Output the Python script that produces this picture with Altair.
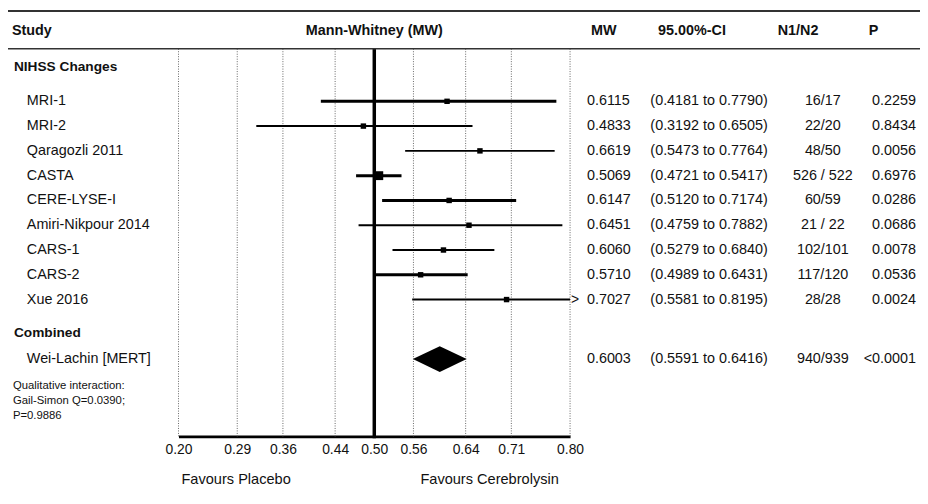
import altair as alt
import pandas as pd

# ---------------- data ----------------
studies = ["MRI-1", "MRI-2", "Qaragozli 2011", "CASTA", "CERE-LYSE-I",
           "Amiri-Nikpour 2014", "CARS-1", "CARS-2", "Xue 2016"]
mw = [0.6115, 0.4833, 0.6619, 0.5069, 0.6147, 0.6451, 0.6060, 0.5710, 0.7027]
ci_lo = [0.4181, 0.3192, 0.5473, 0.4721, 0.5120, 0.4759, 0.5279, 0.4989, 0.5581]
ci_hi = [0.7790, 0.6505, 0.7764, 0.5417, 0.7174, 0.7882, 0.6840, 0.6431, 0.8195]
n1n2 = ["16/17", "22/20", "48/50", "526 / 522", "60/59", "21 / 22", "102/101", "117/120", "28/28"]
pvals = ["0.2259", "0.8434", "0.0056", "0.6976", "0.0286", "0.0686", "0.0078", "0.0536", "0.0024"]

combined_label = "Wei-Lachin [MERT]"
combined_mw = 0.6003
combined_lo = 0.5591
combined_hi = 0.6416
combined_n = "940/939"
combined_p = "<0.0001"

ticks = [0.20, 0.29, 0.36, 0.44, 0.50, 0.56, 0.64, 0.71, 0.80]
headers = ["Study", "Mann-Whitney (MW)", "MW", "95.00%-CI", "N1/N2", "P"]
sections = ["NIHSS Changes", "Combined"]
note_lines = ["Qualitative interaction:", "Gail-Simon Q=0.0390;", "P=0.9886"]
favours = ["Favours Placebo", "Favours Cerebrolysin"]

# ---------------- layout / style ----------------
FONT = "Liberation Sans"
W, H = 920, 430
X0, X1 = 172, 567
ROW_TOP, ROW_BOTTOM = -2.68, 14.52
THICK = {"MRI-1", "CASTA", "CERE-LYSE-I", "CARS-2"}
BIG = {"CASTA"}
XMAX = 0.80
HFS = 14.5  # header font size

xs = alt.Scale(domain=[0.2, 0.8], range=[X0, X1])
ys = alt.Scale(domain=[ROW_TOP, ROW_BOTTOM], range=[0, H])
ax = alt.Axis(values=ticks, format=".2f", title=None, grid=False, ticks=False,
              labelFont=FONT, labelFontSize=14, labelColor="#111",
              domainColor="black", domainWidth=3, labelPadding=6,
              labelFlush=False, labelOverlap=False)

rows = list(range(1, len(studies) + 1))
df = pd.DataFrame({
    "study": studies, "row": rows, "mw": mw, "lo": ci_lo, "hi": ci_hi,
    "n": n1n2, "p": pvals,
})
df["hi_c"] = df["hi"].clip(upper=XMAX)
df["mw_t"] = df["mw"].map(lambda v: f"{v:.4f}")
df["ci_t"] = [f"({a:.4f} to {b:.4f})" for a, b in zip(df["lo"], df["hi"])]
df["sw"] = [3 if s in THICK else 2 for s in studies]
df["sz"] = [80 if s in BIG else 30 for s in studies]

comb_row = 11.4
cdf = pd.DataFrame({"study": [combined_label], "row": [comb_row],
                    "mw_t": [f"{combined_mw:.4f}"],
                    "ci_t": [f"({combined_lo:.4f} to {combined_hi:.4f})"],
                    "n": [combined_n], "p": [combined_p]})

half = 0.52
diamond = pd.DataFrame({"x": [combined_lo, combined_mw, combined_hi],
                        "yt": [comb_row, comb_row - half, comb_row],
                        "yb": [comb_row, comb_row + half, comb_row]})

grid_df = pd.DataFrame({"t": [t for t in ticks if t != 0.5], "ya": -1.12, "yb": ROW_BOTTOM})
ref_df = pd.DataFrame({"t": [0.5], "ya": [-1.12], "yb": [ROW_BOTTOM + 0.08]})

Y = lambda f: alt.Y(f"{f}:Q", scale=ys, axis=None)
X = lambda f: alt.X(f"{f}:Q", scale=xs, axis=ax)

grid = alt.Chart(grid_df).mark_rule(color="#666", strokeDash=[1, 1.5], strokeWidth=1).encode(
    x=X("t"), y=Y("ya"), y2="yb:Q")
ref = alt.Chart(ref_df).mark_rule(color="black", strokeWidth=3.5).encode(
    x=X("t"), y=Y("ya"), y2="yb:Q")

hlines = alt.Chart(pd.DataFrame({"row": [-2.64, -1.12], "w": [2, 1.5]})).mark_rule(color="#333").encode(
    x=alt.value(0), x2=alt.value(W), y=Y("row"), strokeWidth=alt.StrokeWidth("w:Q", scale=None))

ci = alt.Chart(df).mark_rule(color="black").encode(
    x=X("lo"), x2="hi_c:Q", y=Y("row"), strokeWidth=alt.StrokeWidth("sw:Q", scale=None))
sq = alt.Chart(df).mark_square(color="black", opacity=1, filled=True).encode(
    x=X("mw"), y=Y("row"), size=alt.Size("sz:Q", scale=None))
arrow = alt.Chart(df[df["hi"] > XMAX]).mark_text(text=">", font=FONT, fontSize=14, dx=5, color="#111").encode(
    x=alt.X("hi_c:Q", scale=xs, axis=ax), y=Y("row"))
dia = alt.Chart(diamond).mark_area(color="black", orient="vertical").encode(
    x=X("x"), y=Y("yt"), y2="yb:Q")


def col_text(data, field, x, align="left", bold=False, size=14.5, color="#111"):
    return alt.Chart(data).mark_text(
        align=align, baseline="middle", font=FONT, fontSize=size,
        fontWeight="bold" if bold else "normal", color=color
    ).encode(x=alt.value(x), y=Y("row"), text=f"{field}:N")


allrows = pd.concat([df[["study", "row", "mw_t", "ci_t", "n", "p"]], cdf], ignore_index=True)
t_study = col_text(allrows, "study", 19)
t_mw = col_text(allrows, "mw_t", 584)
t_ci = col_text(allrows, "ci_t", 648)
t_n = col_text(allrows, "n", 822, align="center")
t_p = col_text(allrows, "p", 916, align="right")

sec_df = pd.DataFrame({"lab": sections, "row": [-0.4, 10.36]})
t_sec = col_text(sec_df, "lab", 6, bold=True, size=13.8)

hrow = -1.84
hdf = pd.DataFrame({"lab": headers, "row": hrow})
head_layers = [
    col_text(hdf.iloc[[0]], "lab", 4, bold=True, size=HFS),
    alt.Chart(hdf.iloc[[1]]).mark_text(align="center", baseline="middle", font=FONT, fontSize=HFS,
                                       fontWeight="bold", color="#111").encode(
        x=alt.datum(0.5, scale=xs), y=Y("row"), text="lab:N"),
    col_text(hdf.iloc[[2]], "lab", 601, align="center", bold=True, size=HFS),
    col_text(hdf.iloc[[3]], "lab", 690, align="center", bold=True, size=HFS),
    col_text(hdf.iloc[[4]], "lab", 797, align="center", bold=True, size=HFS),
    col_text(hdf.iloc[[5]], "lab", 873, align="center", bold=True, size=HFS),
]

note_df = pd.DataFrame({"lab": note_lines, "row": [12.48, 13.08, 13.68]})
t_note = col_text(note_df, "lab", 5, size=11.4)

fav_df = pd.DataFrame({"lab": favours, "row": 16.28})
t_fav = [col_text(fav_df.iloc[[0]], "lab", 175, size=14.7),
         col_text(fav_df.iloc[[1]], "lab", 416, size=14.7)]

chart = alt.layer(
    grid, ref, hlines, ci, sq, arrow, dia,
    t_study, t_mw, t_ci, t_n, t_p, t_sec, *head_layers, t_note, *t_fav
).properties(
    width=W, height=H, autosize="none",
    padding={"left": 0, "top": 0, "right": 0, "bottom": 56},
    background="white",
).configure_view(stroke=None)

chart.save("out.html", embed_options={"renderer": "svg", "actions": False})
